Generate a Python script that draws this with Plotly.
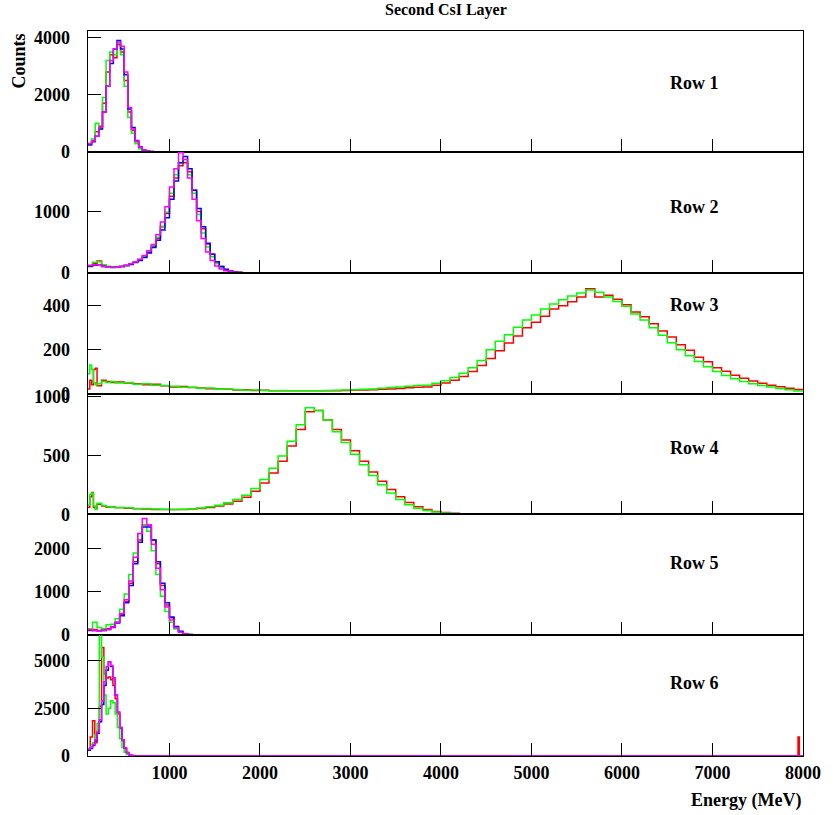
import plotly.graph_objects as go
from plotly.subplots import make_subplots

# ---------------- data ----------------
TITLE = "Second CsI Layer"
ROW_LABELS = ["Row 1", "Row 2", "Row 3", "Row 4", "Row 5", "Row 6"]
X_MIN, X_MAX = 100, 8000

# Row 1 : 40 MeV bins (left edges)
E1 = list(range(100, 860, 40))
R1_blue = [250, 350, 550, 800, 1400, 2300, 3100, 3600, 3900, 3600, 2700, 1500, 850, 400, 170, 60, 25, 8, 0]
R1_mag = [280, 380, 550, 850, 1400, 2300, 3200, 3600, 3850, 3700, 2800, 1550, 800, 380, 160, 60, 25, 8, 0]
R1_red = [250, 400, 700, 900, 1700, 2800, 3400, 3300, 3750, 3500, 2500, 1400, 750, 350, 140, 50, 20, 6, 0]
R1_grn = [300, 450, 1000, 800, 1900, 3200, 3500, 3400, 3800, 3400, 2300, 1200, 650, 280, 110, 40, 15, 5, 0]

# Row 2 : 50 MeV bins
E2 = list(range(100, 1850, 50))
R2_blue = [110, 120, 130, 100, 90, 85, 90, 100, 115, 135, 165, 200, 250, 320, 410, 530, 700, 900, 1200, 1500,
           1800, 1900, 1700, 1350, 1050, 750, 480, 300, 180, 100, 50, 25, 10, 4, 0]
R2_mag = [120, 130, 130, 100, 90, 90, 90, 100, 120, 145, 175, 220, 280, 360, 460, 620, 830, 1080, 1400, 1700,
          1960, 1850, 1550, 1200, 850, 560, 340, 200, 110, 60, 30, 15, 6, 2, 0]
R2_red = [100, 150, 190, 120, 100, 90, 90, 100, 120, 145, 170, 210, 260, 340, 430, 560, 750, 970, 1250, 1550,
          1750, 1800, 1650, 1350, 1000, 720, 470, 300, 180, 100, 55, 28, 12, 5, 0]
R2_grn = [110, 170, 180, 130, 100, 95, 90, 105, 120, 145, 175, 215, 270, 350, 440, 580, 760, 990, 1300, 1600,
          1800, 1850, 1600, 1300, 950, 650, 420, 260, 150, 80, 40, 20, 8, 3, 0]

# Row 3 : fine bins at low energy then 100 MeV bins
E3 = [100, 120, 140, 160, 180, 200, 250, 300, 350] + list(range(400, 8000, 100))
R3_red = [20, 60, 40, 110, 115, 35, 60, 55, 50,
          52, 48, 45, 40, 42, 35, 30, 32, 27, 25, 22, 20, 19, 16, 17, 14, 15, 13, 12, 13, 12, 12, 13, 12, 13,
          14, 15, 16, 17, 19, 21, 23, 26, 28, 30, 38, 48, 60, 78, 100, 128, 160, 195, 230, 262, 300, 325, 352,
          385, 400, 418, 440, 478, 440, 448, 430, 405, 372, 350, 318, 285, 258, 222, 197, 165, 145, 118, 102,
          83, 70, 57, 47, 38, 31, 24, 18]
R3_grn = [90, 130, 110, 50, 40, 45, 55, 50, 55,
          48, 50, 42, 44, 38, 36, 33, 28, 29, 24, 25, 19, 20, 17, 15, 16, 14, 13, 14, 12, 13, 12, 13, 14, 15,
          16, 17, 19, 21, 24, 27, 30, 33, 36, 38, 47, 58, 73, 92, 118, 150, 200, 238, 268, 302, 335, 358, 385,
          408, 428, 445, 458, 472, 462, 440, 420, 398, 362, 335, 300, 266, 232, 200, 172, 146, 122, 100, 82,
          67, 55, 44, 36, 30, 23, 17, 11]

# Row 4
E4 = [100, 120, 140, 160, 180, 200, 250, 300, 350] + list(range(400, 4600, 100))
R4_red = [60, 150, 185, 60, 50, 85, 70, 60, 62,
          58, 52, 48, 45, 42, 40, 40, 42, 45, 50, 58, 70, 88, 112, 145, 195, 265, 350, 450, 580, 720, 870,
          880, 800, 720, 630, 540, 450, 360, 280, 210, 150, 100, 65, 40, 25, 15, 10, 6, 4, 3, 2]
R4_grn = [80, 170, 180, 70, 40, 95, 75, 65, 60,
          55, 55, 50, 50, 46, 43, 42, 44, 48, 54, 64, 78, 98, 125, 162, 220, 295, 390, 495, 620, 760, 905,
          880, 800, 700, 610, 510, 420, 330, 250, 180, 125, 82, 52, 32, 20, 12, 8, 5, 3, 2, 1]

# Row 5 : 50 MeV bins
E5 = list(range(100, 1350, 50))
R5_blue = [120, 110, 100, 110, 130, 180, 280, 450, 750, 1150, 1650, 2150, 2500, 2500, 2200, 1700, 1200, 750,
           420, 200, 90, 35, 15, 5, 0]
R5_mag = [130, 110, 100, 110, 130, 190, 300, 500, 820, 1250, 1800, 2350, 2700, 2550, 2100, 1550, 1050, 650,
          350, 170, 70, 30, 12, 5, 0]
R5_red = [110, 130, 110, 130, 150, 200, 300, 470, 780, 1200, 1700, 2200, 2550, 2550, 2200, 1650, 1150, 700,
          400, 190, 80, 35, 15, 5, 0]
R5_grn = [150, 300, 180, 150, 240, 250, 380, 600, 950, 1400, 1900, 2350, 2550, 2400, 1950, 1400, 900, 550,
          300, 140, 60, 25, 10, 3, 0]

# Row 6 : 25 MeV bins
E6 = list(range(100, 625, 25))
R6_blue = [300, 400, 550, 800, 1200, 1800, 2700, 3700, 4500, 4950, 4700, 4100, 3200, 2300, 1500, 850, 420, 180,
           60, 20, 0]
R6_mag = [350, 450, 600, 850, 1250, 1900, 2900, 3900, 4700, 4950, 4750, 4100, 3200, 2300, 1500, 850, 420, 180,
          60, 20, 0]
R6_red = [300, 1000, 1850, 700, 1300, 2600, 5700, 4300, 4100, 4150, 4000, 3700, 3000, 2200, 1450, 800, 400, 170,
          60, 20, 0]
R6_grn = [400, 500, 700, 1100, 1700, 6600, 5200, 3200, 2200, 2500, 2900, 2800, 2200, 1500, 900, 450, 200, 80,
          25, 8, 0]
R6_red_tail_E = [7945, 7960]
R6_red_tail = [1000, 0]

Y_RANGES = [4235, 1977, 551, 1025, 2794, 6342]
Y_DTICK = [2000, 1000, 200, 500, 1000, 2500]
X_DTICK = 1000
LABEL_Y_PX = [83, 207, 305, 448, 563, 683]

RED, GREEN, BLUE, MAGENTA = "#ff0000", "#00ff00", "#0000ff", "#ff00ff"

rows = [
    (E1, [(R1_red, RED), (R1_grn, GREEN), (R1_blue, BLUE), (R1_mag, MAGENTA)]),
    (E2, [(R2_red, RED), (R2_grn, GREEN), (R2_blue, BLUE), (R2_mag, MAGENTA)]),
    (E3, [(R3_red, RED), (R3_grn, GREEN)]),
    (E4, [(R4_red, RED), (R4_grn, GREEN)]),
    (E5, [(R5_red, RED), (R5_grn, GREEN), (R5_blue, BLUE), (R5_mag, MAGENTA)]),
    (E6, [(R6_red, RED), (R6_grn, GREEN), (R6_blue, BLUE), (R6_mag, MAGENTA)]),
]

FONT = "Liberation Serif"
W, H = 833, 815
ML, MR, MT, MB = 88, 20, 31, 59
PH = H - MT - MB
NBSP = "\u00a0"

fig = make_subplots(rows=6, cols=1, shared_xaxes=True, vertical_spacing=0)

for i, (edges, series) in enumerate(rows, start=1):
    for vals, col in series:
        xs = list(edges)
        ys = list(vals)
        if i == 6 and col == RED:
            xs += R6_red_tail_E
            ys += R6_red_tail
        xs.append(X_MAX)
        ys.append(ys[-1])
        fig.add_trace(go.Scatter(x=xs, y=ys, mode="lines", line=dict(color=col, width=1.5, shape="hv"),
                                 showlegend=False, hoverinfo="skip"), row=i, col=1)

axis_font = dict(family=FONT, size=18, color="black", weight="bold")

for i in range(1, 7):
    fig.update_xaxes(range=[X_MIN, X_MAX], tick0=0, dtick=X_DTICK, ticks="inside", ticklen=13, tickwidth=1,
                     tickcolor="black", showline=True, linecolor="black", linewidth=1, mirror=True,
                     showgrid=False, zeroline=False, tickfont=axis_font, row=i, col=1)
    fig.update_yaxes(range=[0, Y_RANGES[i - 1]], tick0=0, dtick=Y_DTICK[i - 1], ticks="inside", ticklen=13,
                     tickwidth=1, tickcolor="black", showline=True, linecolor="black", linewidth=1, mirror=True,
                     showgrid=False, zeroline=False, tickfont=axis_font, ticksuffix=NBSP * 3, row=i, col=1)

annotations = [
    dict(text="<b>%s</b>" % TITLE, x=0.5, y=1 + (MT - 10) / PH, xref="paper", yref="paper",
         xanchor="center", yanchor="middle", showarrow=False, font=dict(family=FONT, size=16, color="black")),
    dict(text="<b>Counts</b>", x=(18 - ML) / (W - ML - MR), y=1.0, xref="paper", yref="paper",
         xanchor="center", yanchor="top", textangle=-90, showarrow=False,
         font=dict(family=FONT, size=18, color="black")),
    dict(text="<b>Energy (MeV)</b>", x=1.0, y=-(800 - (H - MB)) / PH, xref="paper", yref="paper",
         xanchor="right", yanchor="middle", showarrow=False, font=dict(family=FONT, size=18, color="black")),
]
for lab, ypx in zip(ROW_LABELS, LABEL_Y_PX):
    annotations.append(dict(text="<b>%s</b>" % lab, x=(676 - ML) / (W - ML - MR), y=(H - MB - ypx) / PH,
                            xref="paper", yref="paper", xanchor="left", yanchor="middle", showarrow=False,
                            font=dict(family=FONT, size=18, color="black")))

fig.update_layout(width=W, height=H, margin=dict(l=ML, r=MR, t=MT, b=MB), plot_bgcolor="white",
                  paper_bgcolor="white", annotations=annotations, showlegend=False)

fig.write_html("out.html")
